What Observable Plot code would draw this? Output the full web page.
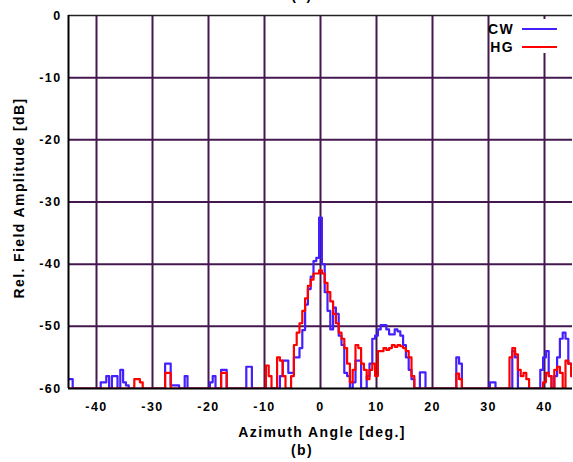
<!DOCTYPE html>
<html><head><meta charset="utf-8">
<script src="https://cdn.jsdelivr.net/npm/d3@7"></script>
<script src="https://cdn.jsdelivr.net/npm/@observablehq/plot@0.6"></script>
<style>
body{margin:0;background:#fff;}
#chart svg{display:block;}
#chart svg text{letter-spacing:1.4px;}
</style>
</head><body><div id="chart"></div>
<script>
// azimuth sampling grid (deg), 0.5 deg steps from -45 to 45
const angles = d3.range(-45, 45.001, 0.5);
// CW (blue), dB, values at or below -60 drawn on the floor
const cw = [
  -58.5,-58.5,-60,-60,-60,-60,-60,-60,-60,-60,
  -60,-60,-59,-59,-58,-60,-58,-58,-60,-57,
  -59,-59.5,-60,-60,-60,-60,-60,-60,-60,-60,
  -60,-60,-60,-60,-60,-56,-56,-59.5,-59.5,-59.5,
  -60,-60,-58,-60,-60,-60,-60,-60,-60,-60,
  -60,-59,-58,-60,-60,-57,-57,-60,-60,-60,
  -60,-60,-60,-60,-56.5,-56.5,-60,-60,-60,-60,
  -60,-60,-60,-60,-60,-60,-58,-55.5,-55.5,-57.5,
  -57.5,-55,-55,-53.5,-50.6,-46.5,-44,-42,-39.5,-39,
  -32.5,-40,-44.5,-47.5,-50.5,-47,-48,-51.5,-53,-57.5,
  -58,-60,-59,-55.5,-55.5,-60,-60,-58,-56,-52,
  -51.5,-50.5,-49.8,-49.8,-50.5,-51.3,-51.3,-50.5,-50.8,-51.5,
  -53,-55,-57,-58.5,-60,-60,-57.4,-57.4,-60,-60,
  -60,-60,-60,-60,-60,-60,-60,-60,-60,-55,
  -56,-60,-60,-60,-60,-60,-60,-60,-60,-60,
  -60,-59,-59,-60,-60,-60,-60,-60,-60,-54,
  -55,-60,-60,-60,-60,-60,-60,-60,-60,-57,
  -55,-54,-58,-60,-58,-55,-52,-51,-52,-56,
  -58
];
// HG (red), dB
const hg = [
  -60,-60,-60,-60,-60,-60,-60,-60,-60,-60,
  -60,-60,-60,-60,-60,-60,-60,-60,-60,-60,
  -60,-60,-60,-60,-58.5,-58.5,-59,-60,-60,-60,
  -60,-60,-60,-60,-60,-57.5,-57.5,-60,-60,-60,
  -60,-60,-60,-60,-60,-60,-60,-60,-60,-60,
  -60,-60,-60,-60,-60,-57.5,-57.5,-60,-60,-60,
  -60,-60,-60,-60,-60,-60,-60,-60,-60,-60,
  -60,-56.3,-58,-60,-60,-55,-55.5,-58,-60,-60,
  -58,-53,-51,-49.5,-47.5,-45.5,-43.5,-42.5,-41.5,-41.5,
  -41,-41.5,-43,-44.5,-46,-48,-49.5,-51,-52,-53.5,
  -56,-59,-57,-53,-53.5,-56,-57,-58.5,-57,-56,
  -58,-54,-54,-53.5,-53.8,-53.5,-53,-53.3,-53,-53.2,
  -53.5,-54,-55,-58,-60,-60,-60,-60,-60,-60,
  -60,-60,-60,-60,-60,-60,-60,-60,-60,-57.6,
  -58.5,-60,-60,-60,-60,-60,-60,-60,-60,-60,
  -60,-60,-60,-60,-60,-60,-60,-60,-55,-53.5,
  -54.5,-57,-58,-57.5,-58.5,-60,-60,-60,-60,-60,
  -59,-57.5,-58,-60,-57,-56.5,-57.5,-60,-55.5,-56,
  -58
];
const seriesNames = ["CW", "HG"];
const xTicks = [-40,-30,-20,-10,0,10,20,30,40];
const yTicks = [0,-10,-20,-30,-40,-50,-60];
const yGrid = [-10,-20,-30,-40,-50];

const blue = "#4420ff", red = "#ff0000", gridColor = "#44184f";
const cwData = angles.map((a,i)=>({angle:a, db:cw[i]}));
const hgData = angles.map((a,i)=>({angle:a, db:hg[i]}));

const chart = Plot.plot({
  width: 573, height: 462,
  marginLeft: 68, marginRight: 1, marginTop: 15, marginBottom: 74,
  style: {fontFamily: "'Liberation Sans', Arial, sans-serif", fontSize: "12.5px", fontWeight: "bold", color: "#000", background: "#fff", overflow: "visible"},
  x: {domain: [-45, 45]},
  y: {domain: [-60, 0]},
  marks: [
    Plot.ruleX(xTicks, {stroke: gridColor, strokeWidth: 2}),
    Plot.ruleY(yGrid, {stroke: gridColor, strokeWidth: 2}),
    Plot.line(cwData, {x: "angle", y: "db", curve: "step", stroke: blue, strokeWidth: 2.2, clip: true}),
    Plot.line(hgData, {x: "angle", y: "db", curve: "step", stroke: red, strokeWidth: 2.2, clip: true}),
    Plot.ruleY([-60], {stroke: "#000", strokeWidth: 2}),
    Plot.ruleY([0], {stroke: "#222", strokeWidth: 1.5}),
    Plot.ruleX([-45], {stroke: "#000", strokeWidth: 2}),
    Plot.axisX({ticks: xTicks, tickSize: 0, tickPadding: 14, tickFormat: d => String(d), label: null}),
    Plot.axisY({ticks: yTicks, tickSize: 0, tickPadding: 7, tickFormat: d => String(d), label: null})
  ]
});
document.getElementById("chart").appendChild(chart);

const svg = d3.select(chart);
const txt = (x, y, s, size, anchor, rot) => {
  const t = svg.append("text").attr("x", x).attr("y", y).text(s)
    .attr("font-size", size).attr("font-weight", "bold").attr("fill", "#000")
    .attr("text-anchor", anchor);
  if (rot) t.attr("transform", `rotate(${rot},${x},${y})`);
  return t;
};
txt(322, 437, "Azimuth Angle [deg.]", 14, "middle");
txt(302, 455, "(b)", 14, "middle");
txt(302, 0, "(a)", 14, "middle");
txt(24, 198, "Rel. Field Amplitude [dB]", 14, "middle", -90);
// legend
svg.append("rect").attr("x", 519).attr("y", 19).attr("width", 42).attr("height", 34).attr("fill", "#fff");
const legColors = [blue, red];
seriesNames.forEach((n, i) => {
  const y = 29 + i * 18;
  txt(514, y + 5, n, 14, "end");
  svg.append("line").attr("x1", 522).attr("x2", 557).attr("y1", y).attr("y2", y)
    .attr("stroke", legColors[i]).attr("stroke-width", 2.2);
});
</script>
</body></html>
